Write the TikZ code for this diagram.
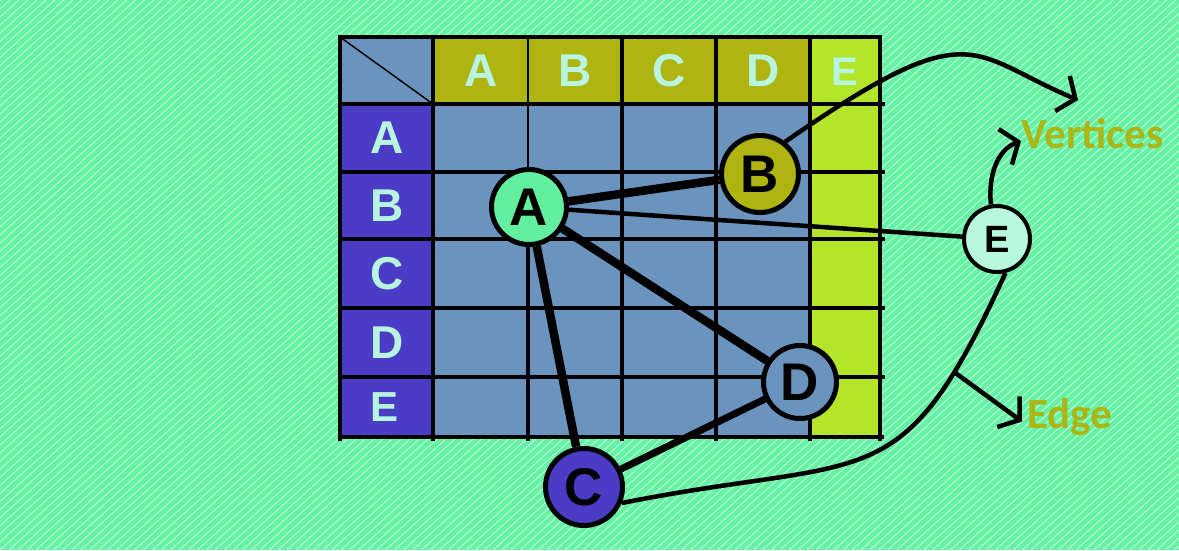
\documentclass[tikz,border=0pt]{standalone}
\usepackage{fontspec}
\setmainfont{Liberation Sans}
\newfontfamily\labelfont{Carlito}
\usetikzlibrary{arrows.meta,patterns.meta}

\definecolor{mintbg}{HTML}{66F2A4}
\definecolor{mintline}{HTML}{C4FADC}
\definecolor{cellblue}{HTML}{6A94BE}
\definecolor{headolive}{HTML}{AEB410}
\definecolor{headlime}{HTML}{B5E52A}
\definecolor{rowpurple}{HTML}{4B3CC6}
\definecolor{headtext}{HTML}{B8F5E0}
\definecolor{nodemint}{HTML}{62F0A0}
\definecolor{nodepale}{HTML}{B8F8DC}
\definecolor{labelolive}{HTML}{ABB514}

\tikzset{
  gridline/.style={line width=4.5pt, color=black},
  headletter/.style={inner sep=0pt, text=headtext, font=\fontsize{46}{50}\selectfont\bfseries},
  vertex/.style={circle, draw=black, line width=5pt, inner sep=0pt, font=\fontsize{53}{56}\selectfont\bfseries},
  thickedge/.style={line width=8.5pt},
  thinedge/.style={line width=4.5pt},
  barb/.style={-{Straight Barb[length=14pt,width=38pt]}},
  sidelabel/.style={inner sep=0pt, text=labelolive, font=\labelfont\bfseries\fontsize{43}{46}\selectfont}
}

\begin{document}
\begin{tikzpicture}[x=1pt,y=-1pt]
  % background
  \fill[mintbg] (0,0) rectangle (1179,550);
  \fill[pattern={Lines[angle=42,distance=6pt,line width=0.9pt]}, pattern color=mintline] (0,0) rectangle (1179,550);

  % cells
  \fill[cellblue] (340,37) rectangle (433,104);
  \fill[headolive] (433,37) rectangle (810,104);
  \fill[headlime] (810,37) rectangle (880,437);
  \fill[rowpurple] (340,104) rectangle (433,437);
  \fill[cellblue] (433,104) rectangle (810,437);

  % grid lines
  \foreach \gy in {104,172,239,308,377}
    \draw[gridline] (340,\gy) -- (885,\gy);
  \draw[gridline] (338,37) -- (882,37);
  \draw[gridline] (338,437) -- (884,437);
  \foreach \gx in {340,433,622,716,810,880}
    \draw[gridline] (\gx,35) -- (\gx,441);
  \draw[line width=1.5pt] (528,37) -- (528,172);
  \draw[gridline] (528,172) -- (528,441);
  \draw[line width=1.5pt] (340,37) -- (433,104);

  % headers
  \foreach \lt/\gx in {A/481,B/575,C/669,D/763}
    \node[headletter] (col\lt) at (\gx,71) {\lt};
  \node[headletter, font=\fontsize{40}{44}\selectfont\bfseries] (colE) at (845,72) {E};
  \foreach \lt/\gy in {A/138,B/206,C/274,D/343}
    \node[headletter] (row\lt) at (387,\gy) {\lt};
  \node[headletter, font=\fontsize{42}{46}\selectfont\bfseries] (rowE) at (385,407) {E};

  % vertices
  \node[vertex, fill=nodemint, minimum size=75pt] (vA) at (529,207) {A};
  \node[vertex, fill=headolive, minimum size=77pt] (vB) at (760,174) {B};
  \node[vertex, fill=rowpurple, minimum size=77pt] (vC) at (584,487) {C};
  \node[vertex, fill=cellblue, minimum size=73pt] (vD) at (800,382) {D};
  \node[vertex, fill=nodepale, minimum size=66pt, line width=4pt,
        font=\fontsize{38}{42}\selectfont\bfseries] (vE) at (997,239) {E};

  % edges
  \draw[thickedge] (vA) -- (vB);
  \draw[thinedge] (vA) -- (vE);
  \draw[thickedge] (vA) -- (vD);
  \draw[thickedge] (vA) -- (vC);
  \draw[thickedge, line width=7pt] (vC) -- (vD);

  % labels
  \node[sidelabel, anchor=base west] (lblVert) at (1021,148) {Vertices};
  \node[sidelabel, anchor=base west] (lblEdge) at (1027,428) {Edge};

  % arrows
  \coordinate (topend) at (1078,100);
  \draw[thinedge, barb] (vB.52) .. controls (974,11) and (968,54) .. (topend);
  \draw[thinedge, barb] (vE.100) .. controls (988,176) and (997,150) .. ([yshift=-8pt]lblVert.west);
  \draw[thinedge] (vE.284) .. controls (900,503) and (873,453) .. (vC.337) coordinate[pos=0.18] (edgefoot);
  \draw[thinedge, barb] (edgefoot) -- ([xshift=-5pt,yshift=-5pt]lblEdge.west);
\end{tikzpicture}
\end{document}
